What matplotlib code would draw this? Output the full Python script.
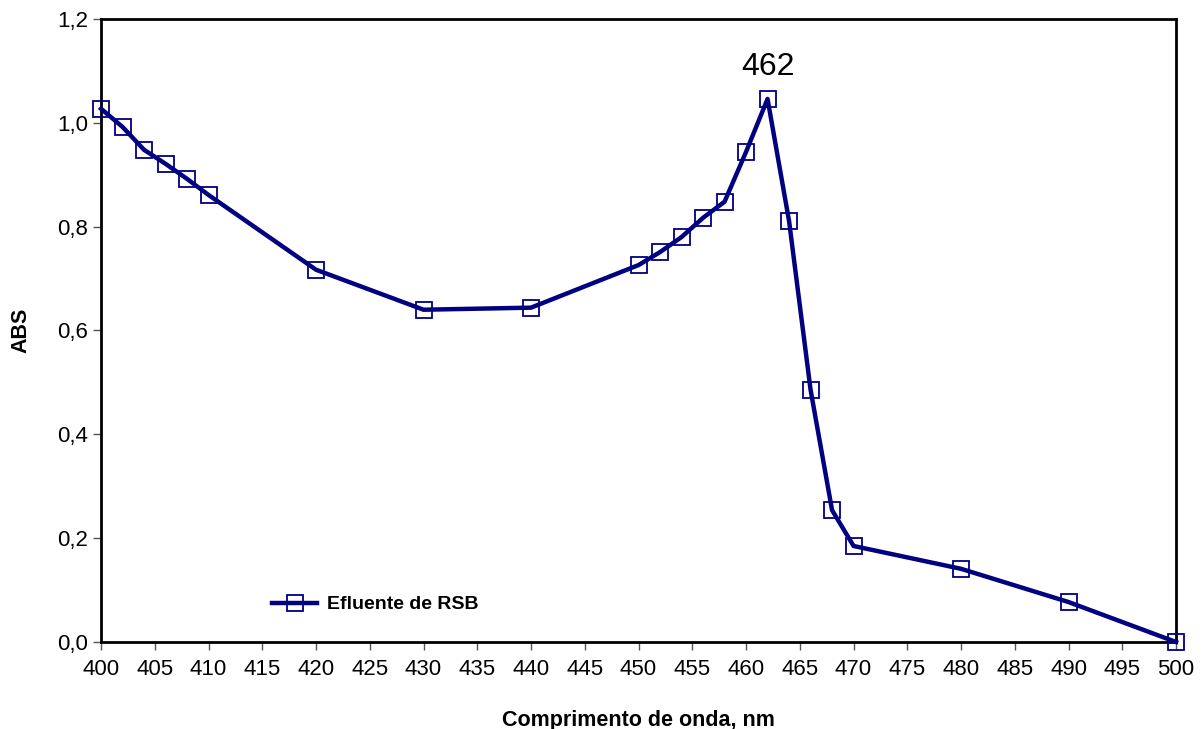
import numpy as np
import matplotlib
matplotlib.use("Agg")
import matplotlib.pyplot as plt

plt.rcParams["font.family"] = ["Liberation Sans", "DejaVu Sans"]

# ── Data ─────────────────────────────────────────────────────────────────────
wavelength = [400, 402, 404, 406, 408, 410, 420, 430, 440, 450, 452, 454,
              456, 458, 460, 462, 464, 466, 468, 470, 480, 490, 500]
abs_rsb = [1.027, 0.992, 0.948, 0.921, 0.892, 0.861, 0.717, 0.640, 0.644,
           0.726, 0.751, 0.780, 0.817, 0.848, 0.944, 1.046, 0.811, 0.486,
           0.254, 0.185, 0.141, 0.077, 0.0]
x_ticks = list(range(400, 501, 5))
y_ticks = [0.0, 0.2, 0.4, 0.6, 0.8, 1.0, 1.2]

NAVY = "#000080"

fig = plt.figure(figsize=(12.03, 7.29), dpi=100)
ax = fig.add_axes([0.084, 0.1193, 0.8936, 0.8547])

ax.plot(wavelength, abs_rsb, color=NAVY, linewidth=3.2, marker="s",
        markersize=11.5, markerfacecolor="none", markeredgecolor=NAVY,
        markeredgewidth=1.3, label="Efluente de RSB", clip_on=False,
        zorder=5)

# peak label
ax.annotate("462", xy=(462, 1.046), xytext=(0, 12), textcoords="offset points",
            ha="center", va="bottom", fontsize=23)

ax.set_xlim(400, 500)
ax.set_ylim(0, 1.2)
ax.set_xticks(x_ticks)
ax.set_yticks(y_ticks)
ax.set_yticklabels([f"{v:.1f}".replace(".", ",") for v in y_ticks])
ax.tick_params(axis="both", labelsize=16, direction="out", length=6,
               width=1, color="#555555")
ax.tick_params(axis="x", pad=6)

for sp in ax.spines.values():
    sp.set_linewidth(2)
    sp.set_color("black")

ax.set_xlabel("Comprimento de onda, nm", fontsize=15.5, fontweight="bold",
              labelpad=22)
ax.set_ylabel("ABS", fontsize=15.5, fontweight="bold", labelpad=18)

leg = ax.legend(loc="lower left", bbox_to_anchor=(0.143, 0.018), frameon=False,
                handlelength=2.3, handletextpad=0.5,
                prop={"weight": "bold", "size": 14})

plt.savefig("out.png", dpi=100)
plt.close()
